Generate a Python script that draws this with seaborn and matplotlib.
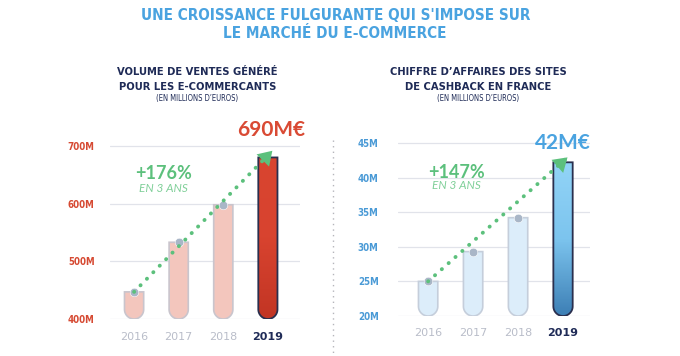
import numpy as np
import pandas as pd
import matplotlib
matplotlib.use("Agg")
import matplotlib.pyplot as plt
import seaborn as sns
from matplotlib.path import Path
from matplotlib.patches import PathPatch, FancyArrowPatch
from matplotlib.lines import Line2D
from matplotlib.colors import LinearSegmentedColormap

# data
years = ["2016", "2017", "2018", "2019"]
ventes = [447, 533, 598, 680]          # millions d'euros
cashback = [25.0, 29.3, 34.2, 42.2]    # millions d'euros
ventes_ticks = [400, 500, 600, 700]
cashback_ticks = [20, 25, 30, 35, 40, 45]
ventes_final = 690
cashback_final = 42.8
ventes_label = "690M€"
cashback_label = "42M€"
ventes_growth = "+176%"
cashback_growth = "+147%"

GREEN = "#5cc07c"
NAVY = "#1f2b57"
TITLE_BLUE = "#4aa3e0"

sns.set_theme(style="white")
plt.rcParams['font.family'] = ['DejaVu Sans']

fig = plt.figure(figsize=(6.8, 3.56), dpi=100)

# titles
fig.text(0.493, 1 - 16/356, "UNE CROISSANCE FULGURANTE QUI S'IMPOSE SUR", ha="center", va="center",
         color=TITLE_BLUE, fontsize=11, fontweight="bold", fontstretch="condensed")
fig.text(0.493, 1 - 34/356, "LE MARCHÉ DU E-COMMERCE", ha="center", va="center",
         color=TITLE_BLUE, fontsize=11, fontweight="bold", fontstretch="condensed")
for cx, l1, l2 in [(0.29, "VOLUME DE VENTES GÉNÉRÉ", "POUR LES E-COMMERCANTS"),
                   (0.703, "CHIFFRE D’AFFAIRES DES SITES", "DE CASHBACK EN FRANCE")]:
    fig.text(cx, 1 - 72/356, l1, ha="center", va="center", color=NAVY, fontsize=8,
             fontweight="bold", fontstretch="condensed")
    fig.text(cx, 1 - 87/356, l2, ha="center", va="center", color=NAVY, fontsize=8,
             fontweight="bold", fontstretch="condensed")
    fig.text(cx, 1 - 99/356, "(EN MILLIONS D’EUROS)", ha="center", va="center", color=NAVY,
             fontsize=5.5, fontstretch="condensed")

# dotted separator
fig.add_artist(Line2D([333/680, 333/680], [1 - 140/356, 1 - 354/356], transform=fig.transFigure,
                      color="#b5b5bb", lw=1, linestyle=(0, (1, 3))))


def tube(ax, bar, base, face, edge, lw, grad=None):
    # turn a seaborn bar into a test tube: flat top, round bottom
    x0, w, top = bar.get_x(), bar.get_width(), bar.get_height()
    p0 = ax.transData.transform((x0, base))
    p1 = ax.transData.transform((x0 + w, base))
    r_px = (p1[0] - p0[0]) / 2
    ry = ax.transData.inverted().transform((p0[0], p0[1] + r_px))[1] - base
    t = np.linspace(np.pi, 2 * np.pi, 40)
    xs = x0 + w / 2 + w / 2 * np.cos(t)
    ys = base + ry + ry * np.sin(t)
    verts = [(x0, top)] + list(zip(xs, ys)) + [(x0 + w, top), (x0, top)]
    codes = [Path.MOVETO] + [Path.LINETO] * (len(verts) - 2) + [Path.CLOSEPOLY]
    path = Path(verts, codes)
    fill = PathPatch(path, facecolor=face, edgecolor="none", zorder=2)
    ax.add_patch(fill)
    if grad is not None:
        cmap = LinearSegmentedColormap.from_list("g", grad)
        img = ax.imshow(np.linspace(0, 1, 100).reshape(-1, 1), cmap=cmap, aspect="auto",
                        extent=(x0, x0 + w, base, top), origin="upper", zorder=2.5)
        img.set_clip_path(fill)
    ax.add_patch(PathPatch(path, facecolor="none", edgecolor=edge, lw=lw, zorder=3))
    bar.remove()


def panel(rect, values, ticks, ylim, xlim, tick_color, pale, pale_edge, strong, grad,
          final, final_label, final_color, label_pos, growth, growth_pos, ypad):
    ax = fig.add_axes(rect)
    df = pd.DataFrame({"year": years, "value": values})
    sns.barplot(data=df, x="year", y="value", hue="year", legend=False, ax=ax,
                palette=[pale, pale, pale, strong], width=0.43)
    ax.set_xlim(*xlim)
    ax.set_ylim(*ylim)
    ax.set_xlabel("")
    ax.set_ylabel("")
    sns.despine(ax=ax, left=True, bottom=True)
    ax.set_yticks(ticks)
    ax.set_yticklabels([f"{t:g}M" for t in ticks], color=tick_color, fontweight="bold",
                       fontsize=7, fontstretch="condensed")
    ax.tick_params(axis="y", length=0, pad=ypad)
    ax.tick_params(axis="x", length=0, pad=9)
    ax.yaxis.grid(True, color="#e1e3ea", lw=0.9)
    ax.xaxis.grid(False)
    ax.set_axisbelow(True)
    ax.set_xticks(range(len(years)))
    ax.set_xticklabels(years, fontsize=8, color="#b9bdc9")
    last = ax.get_xticklabels()[-1]
    last.set_color(NAVY)
    last.set_fontweight("bold")

    bars = list(ax.patches)
    base = ylim[0]
    for i, b in enumerate(bars):
        if i == len(bars) - 1:
            tube(ax, b, base, strong, "#2a2f4e", 1.3, grad)
        else:
            tube(ax, b, base, pale, pale_edge, 1.2)
    ax.set_xlim(*xlim)
    ax.set_ylim(*ylim)

    # dots on top of the pale bars
    ax.scatter(range(len(values) - 1), values[:-1], s=38, color="#a9b6c7", zorder=4,
               edgecolor="white", linewidth=0.4)

    # dotted growth arrow
    x_end = len(values) - 1 + 0.08
    ax.plot([0, x_end], [values[0], final], color=GREEN, lw=2.8,
            linestyle=(0, (0.05, 2.3)), dash_capstyle="round", zorder=5, clip_on=False)
    start = (x_end - 0.12, final - (final - values[0]) * 0.12 / x_end)
    ax.add_patch(FancyArrowPatch(start, (x_end + 0.02, final + (final - values[0]) * 0.02 / x_end),
                                 arrowstyle="-|>,head_length=0.7,head_width=0.45",
                                 mutation_scale=14, color=GREEN, lw=0, zorder=6,
                                 shrinkA=0, shrinkB=0, clip_on=False))

    ax.text(label_pos[0], label_pos[1], final_label, ha="center", va="center", color=final_color,
            fontsize=15, fontweight="bold", family=["Lato", "DejaVu Sans"], clip_on=False)
    ax.text(growth_pos[0], growth_pos[1], growth, ha="center", va="center", color=GREEN,
            fontsize=13, fontweight="bold", family=["Lato", "DejaVu Sans"], clip_on=False)
    ax.text(growth_pos[0], growth_pos[2], "EN 3 ANS", ha="center", va="center", color="#7fcf98",
            fontsize=8.5, style="italic", family=["Lato", "DejaVu Sans"], clip_on=False)
    return ax


panel([110/680, 37/356, 190/680, 190.4/356], ventes, ventes_ticks, (400, 730), (-0.54, 3.72),
      "#d64a33", "#f3c6bd", "#c9c5cd", "#d8432f", ["#d9452f", "#d8432f", "#c23524"],
      ventes_final, ventes_label, "#d94a34", (3.08, 727), ventes_growth, (0.66, 653, 627), 11)

panel([398/680, 40/356, 192/680, 180/356], cashback, cashback_ticks, (20, 46), (-0.67, 3.6),
      "#4a9ad6", "#dcedfa", "#c5cedb", "#6fb9e8", ["#92d4f7", "#7cc4ee", "#3d7fb5"],
      cashback_final, cashback_label, TITLE_BLUE, (3.0, 45.0), cashback_growth, (0.64, 40.8, 38.8), 14)

fig.savefig("out.png", dpi=100)
